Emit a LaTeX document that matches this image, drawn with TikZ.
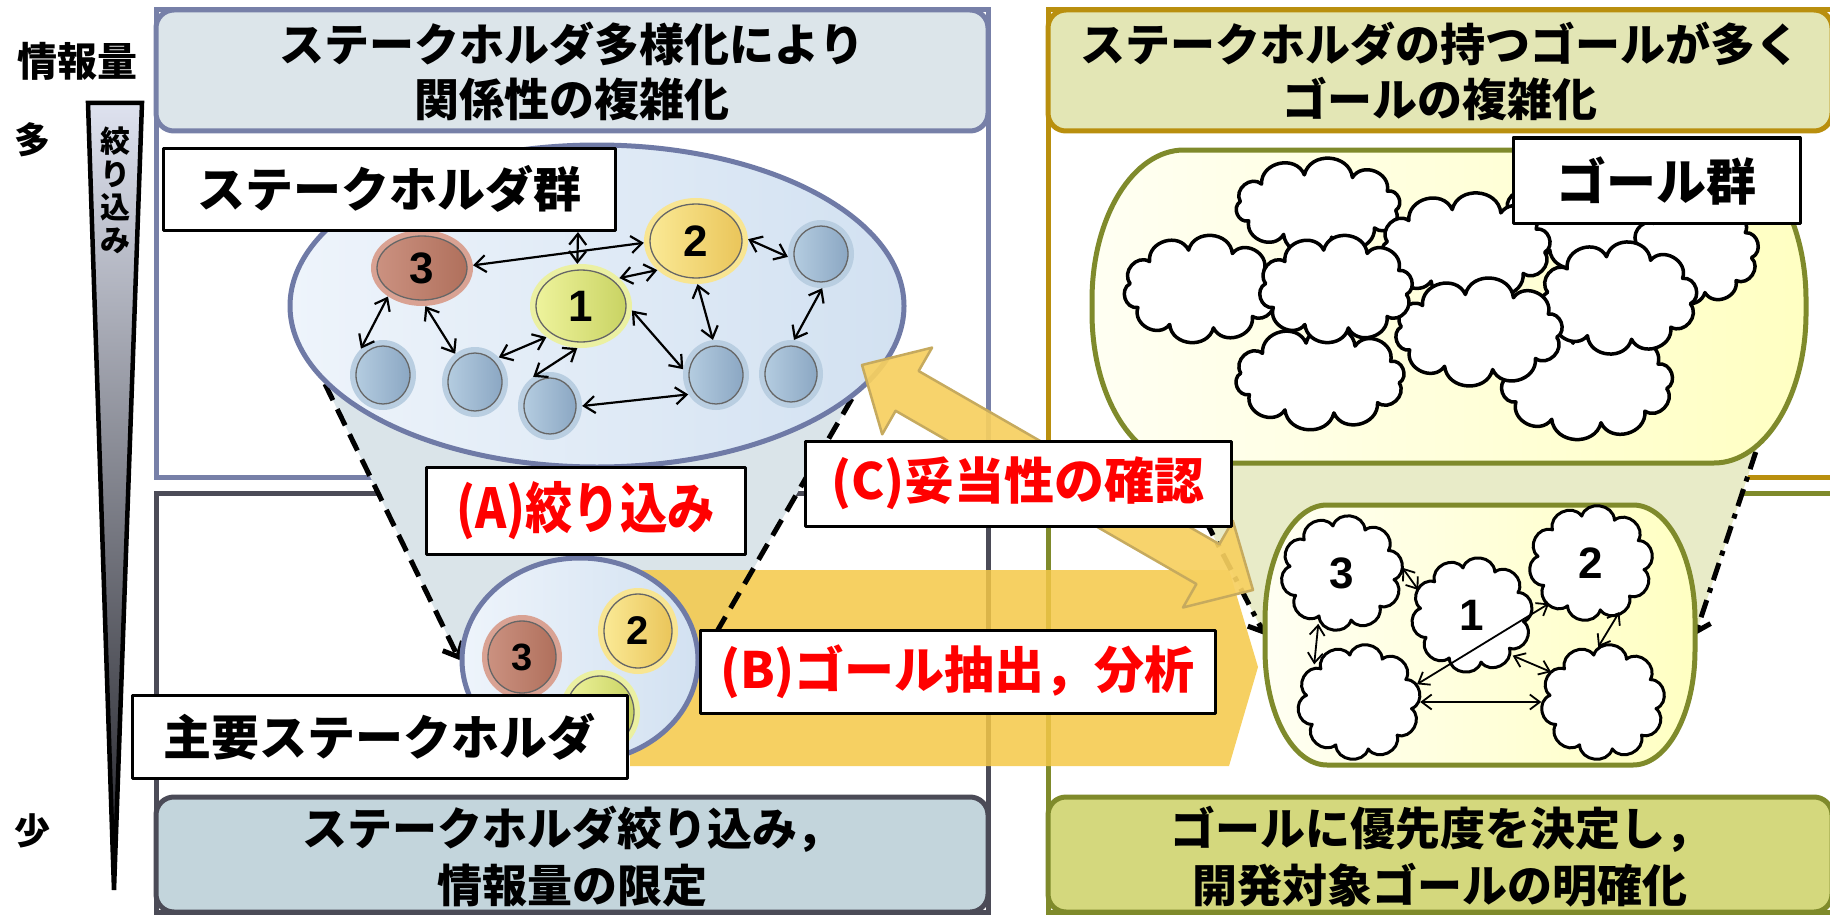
\documentclass[tikz,border=0pt]{standalone}
\usepackage{fontspec}
\newfontfamily\jpfont{Noto Sans CJK JP}
\newfontfamily\jpnarrow{Noto Sans CJK JP}[FakeStretch=0.86]
\newfontfamily\numfont{Liberation Sans}
\usetikzlibrary{arrows.meta,shapes.geometric,calc}

\pgfdeclarelayer{frames}
\pgfdeclarelayer{fills}
\pgfdeclarelayer{band}
\pgfdeclarelayer{lines}
\pgfsetlayers{frames,fills,band,lines,main}

\newcommand\setfs[2]{\fontsize{#1}{#2}\selectfont}

% panel colours
\definecolor{slateline}{HTML}{7780A8}
\definecolor{slatefill}{HTML}{DCE5EA}
\definecolor{darkline}{HTML}{4B4B57}
\definecolor{darkfill}{HTML}{C3D5DC}
\definecolor{goldline}{HTML}{B98F0E}
\definecolor{goldfill}{HTML}{E3E6B5}
\definecolor{oliveline}{HTML}{7F8A2B}
\definecolor{olivefill}{HTML}{D4D87D}
\definecolor{funnelblue}{HTML}{DAE4E9}
\definecolor{funnelolive}{HTML}{E8EBC8}
\definecolor{groupline}{HTML}{6F7AA6}
\definecolor{groupA}{HTML}{EEF4FB}
\definecolor{groupB}{HTML}{D2E1F1}
\definecolor{goalA}{HTML}{FFFFF3}
\definecolor{goalB}{HTML}{FFFFC2}
\definecolor{bandyellow}{HTML}{F5C847}
\definecolor{checkyellow}{HTML}{F7D060}
\definecolor{checkline}{HTML}{C6AA5E}
\definecolor{wedgetop}{HTML}{DEE2EF}
\definecolor{wedgemid}{HTML}{C5C9D6}
\definecolor{wedgebot}{HTML}{1E1E24}
% stakeholder discs
\definecolor{brownrim}{HTML}{D9A293}
\definecolor{browna}{HTML}{CB9180}
\definecolor{brownb}{HTML}{B0705C}
\definecolor{yelrim}{HTML}{F8E592}
\definecolor{yela}{HTML}{FAE995}
\definecolor{yelb}{HTML}{EAC55A}
\definecolor{grnrim}{HTML}{EBF0A2}
\definecolor{grna}{HTML}{EEF39C}
\definecolor{grnb}{HTML}{C9D363}
\definecolor{blurim}{HTML}{B9CEE1}
\definecolor{blua}{HTML}{B4CCE0}
\definecolor{blub}{HTML}{8BA7C3}

% disc: name, centre, width, height, palette, number, font size
\newcommand\StkDisc[7]{%
  \node[ellipse, inner sep=0pt, minimum width=#3pt, minimum height=#4pt,
        fill=#5rim] (#1) at #2 {};
  \path[left color=#5a, right color=#5b, draw=black!60, line width=1.3pt]
    (#1.center) ellipse [x radius=#3/2-6, y radius=#4/2-6];
  \node[font=\numfont\bfseries\setfs{#7}{#7}] at (#1.center) {#6};
}

% goal cloud: name, cx, cy, width, height, number, line width
\newcommand\PuffCloud[7]{%
  \node[ellipse, inner sep=0pt, minimum width=#4pt, minimum height=#5pt] (#1) at (#2,#3) {};
  \draw[fill=white, line width=#7pt]
    ({#2+(#4/2-8)*cos(8)}, {#3+(#5/2-0.06*#4)*sin(8)})
    \foreach \t in {44,80,...,368} {
      to[bend left=80, looseness=1.3] ({#2+(#4/2-8)*cos(\t)}, {#3+(#5/2-0.06*#4)*sin(\t)}) } -- cycle;
  \node[font=\numfont\bfseries\setfs{44}{44}] at (#1.center) {#6};
}

% box with elliptic corners: x0, y0, x1, y1, rx, ry
\newcommand\SoftBox[6]{(#1+#5,#2) -- (#3-#5,#2)
  arc[start angle=-90,end angle=0,x radius=#5,y radius=#6] -- (#3,#4-#6)
  arc[start angle=0,end angle=90,x radius=#5,y radius=#6] -- (#1+#5,#4)
  arc[start angle=90,end angle=180,x radius=#5,y radius=#6] -- (#1,#2+#6)
  arc[start angle=180,end angle=270,x radius=#5,y radius=#6] -- cycle}

\begin{document}
\begin{tikzpicture}[x=1pt, y=-1pt, line join=round,
  hdrtext/.style={align=center, font=\jpfont\bfseries\setfs{45}{55}},
  hdrtextlow/.style={align=center, font=\jpfont\bfseries\setfs{45}{57}},
  sidetext/.style={font=\jpfont\bfseries\setfs{36}{40}},
  tagbox/.style={draw=black, line width=3pt, fill=white, inner sep=0pt},
  tagtext/.style={font=\jpfont\bfseries\setfs{48}{52}},
  redtext/.style={text=red, font=\jpfont\bfseries\setfs{50}{54}},
  linkarrow/.style={line width=2.2pt,
    arrows={Straight Barb[length=11pt,width=17pt]-Straight Barb[length=11pt,width=17pt]}},
  goalarrow/.style={line width=1.8pt,
    arrows={Straight Barb[length=10pt,width=15pt]-Straight Barb[length=10pt,width=15pt]}},
  funnelline/.style={line width=5pt, dash pattern=on 18pt off 10pt},
  funneldash/.style={line width=5pt, dash pattern=on 18pt off 8pt on 5pt off 8pt},
  funneltip/.style={arrows={-Straight Barb[length=12pt,width=22pt]}},
]
\useasboundingbox (0,0) rectangle (1830,915);

% ---------- panels ----------
\begin{pgfonlayer}{frames}
  \fill[white] (0,0) rectangle (1830,915);
  \draw[slateline, line width=5pt] (156,10) rectangle (988,477);
  \draw[slateline, line width=5pt, fill=slatefill, rounded corners=18pt] (156,10) rectangle (988,131);
  \draw[darkline, line width=5pt] (156,493) rectangle (988,912);
  \draw[darkline, line width=5pt, fill=darkfill, rounded corners=18pt] (156,797) rectangle (988,912);
  \draw[goldline, line width=5pt] (1048,10) rectangle (1845,477);
  \draw[goldline, line width=5pt, fill=goldfill, rounded corners=18pt] (1048,10) rectangle (1832,131);
  \draw[oliveline, line width=5pt] (1048,493) rectangle (1845,912);
  \draw[oliveline, line width=5pt, fill=olivefill, rounded corners=18pt] (1048,797) rectangle (1832,912);
\end{pgfonlayer}

\node[hdrtext] (hdrLT) at (572,71.5) {ステークホルダ多様化により\\関係性の複雑化};
\node[hdrtext] (hdrRT) at (1440,71.5) {ステークホルダの持つゴールが多く\\ゴールの複雑化};
\node[hdrtextlow] (hdrLB) at (572,856.5) {ステークホルダ絞り込み，\\情報量の限定};
\node[hdrtextlow] (hdrRB) at (1440,856.5) {ゴールに優先度を決定し，\\開発対象ゴールの明確化};

% ---------- information scale ----------
\shade[top color=wedgetop, middle color=wedgemid, bottom color=wedgebot]
  (88,103) -- (142,103) -- (114,890) -- cycle;
\draw[line width=4.5pt, line join=miter] (88,103) -- (142,103) -- (114,890) -- cycle;
\node[font=\jpfont\bfseries\setfs{30}{33}, align=center] (wedgeLbl) at (115,190) {絞\\り\\込\\み};
\node[font=\jpfont\bfseries\setfs{40}{42}] (infoLbl) at (77,61) {情報量};
\node[sidetext] (manyLbl) at (32,140) {多};
\node[sidetext] (fewLbl) at (32,831) {少};

% ---------- stakeholder group ----------
\node[ellipse, inner sep=0pt, minimum width=614pt, minimum height=322pt,
      draw=groupline, line width=5pt, left color=groupA, right color=groupB] (sgroup) at (597,306) {};
\StkDisc{c3}{(422,268)}{102}{76}{brown}{3}{44}
\StkDisc{c2}{(696,241)}{104}{86}{yel}{2}{44}
\StkDisc{c1}{(581,306)}{102}{84}{grn}{1}{44}
\StkDisc{b1}{(383,375)}{66}{70}{blu}{}{10}
\StkDisc{b2}{(475,382)}{66}{70}{blu}{}{10}
\StkDisc{b3}{(550,406)}{64}{68}{blu}{}{10}
\StkDisc{b4}{(716,375)}{66}{70}{blu}{}{10}
\StkDisc{b5}{(791,374)}{64}{68}{blu}{}{10}
\StkDisc{b6}{(821,254)}{66}{68}{blu}{}{10}
\coordinate (c1up) at (578,232);

\draw[linkarrow] (c3.3) -- (c2.182);
\draw[linkarrow] (c1.95) -- (c1up);
\draw[linkarrow] (c1.36) -- (c2.217);
\draw[linkarrow] (c2.2) -- (b6.185);
\draw[linkarrow] (c2.272) -- (b4.95);
\draw[linkarrow] (b6.272) -- (b5.85);
\draw[linkarrow] (c1.355) -- (b4.170);
\draw[linkarrow] (b3.0) -- (b4.215);
\draw[linkarrow] (c3.220) -- (b1.130);
\draw[linkarrow] (c3.275) -- (b2.125);
\draw[linkarrow] (c1.222) -- (b2.46);
\draw[linkarrow] (c1.265) -- (b3.120);

% ---------- key stakeholders ----------
\node[ellipse, inner sep=0pt, minimum width=236pt, minimum height=204pt,
      draw=groupline, line width=5pt, left color=groupA, right color=groupB] (sfocus) at (580,660) {};
\StkDisc{d3}{(522,657)}{80}{84}{brown}{3}{38}
\StkDisc{d2}{(638,631)}{80}{86}{yel}{2}{40}
\StkDisc{d1}{(600,712)}{80}{84}{grn}{}{40}
\coordinate (focusR) at (712,640);

% ---------- goal group ----------
\node[minimum width=714pt, minimum height=313pt, inner sep=0pt] (ggroup) at (1449,306.5) {};
\path[left color=goalA, right color=goalB, draw=oliveline, line width=5pt]
  \SoftBox{1092}{150}{1806}{463}{92}{150};
\PuffCloud{gc1}{1318}{206}{173}{84}{}{3.5}
\PuffCloud{gc9}{1582}{218}{163}{91}{}{3.5}
\PuffCloud{gc10}{1695}{252}{130}{98}{}{3.5}
\PuffCloud{gc5}{1466}{247}{175}{97}{}{3.5}
\PuffCloud{gc8}{1587}{383}{177}{102}{}{3.5}
\PuffCloud{gc7}{1619}{298}{160}{103}{}{3.5}
\PuffCloud{gc6}{1479}{332}{173}{97}{}{3.5}
\PuffCloud{gc4}{1320}{378}{176}{92}{}{3.5}
\PuffCloud{gc2}{1201}{289}{159}{98}{}{3.5}
\PuffCloud{gc3}{1336}{289}{158}{98}{}{3.5}
\coordinate (ggL) at (1169,450);
\coordinate (ggR) at (1768,415);

% ---------- prioritised goals ----------
\node[minimum width=430pt, minimum height=260pt, inner sep=0pt] (gfocus) at (1480,635) {};
\path[left color=goalA, right color=goalB, draw=oliveline, line width=5pt]
  \SoftBox{1265}{505}{1695}{765}{62}{115};
\PuffCloud{k3}{1342}{573}{121}{110}{3}{3}
\PuffCloud{k1}{1472}{615}{120}{110}{1}{3}
\PuffCloud{k2}{1591}{563}{123}{110}{2}{3}
\PuffCloud{k4}{1359}{702}{122}{110}{}{3}
\PuffCloud{k5}{1603}{702}{123}{110}{}{3}
\draw[goalarrow] (k3.5) -- (k1.155);
\draw[goalarrow] (k3.245) -- (k4.140);
\draw[goalarrow] (k4.17) -- (k2.224);
\draw[goalarrow] (k2.300) -- (k5.95);
\draw[goalarrow] (k1.315) -- (k5.150);
\draw[goalarrow] (k4.east) -- (k5.west);

% ---------- funnels between the stages ----------
\begin{pgfonlayer}{fills}
  \fill[funnelblue] (sgroup.196) -- (sfocus.180) -- (sfocus.south) -- (focusR)
    -- (sgroup.340) -- (sgroup.center) -- cycle;
  \fill[funnelolive] (ggL) -- (gfocus.west) -- (gfocus.south) -- (gfocus.east)
    -- (ggR) -- (ggroup.center) -- cycle;
\end{pgfonlayer}
\begin{pgfonlayer}{band}
  \fill[bandyellow, opacity=0.85] (630,570) -- (1229,570) -- (1258,667) -- (1229,766) -- (630,766) -- cycle;
\end{pgfonlayer}
\begin{pgfonlayer}{lines}
  \draw[funnelline, funneltip] (sgroup.196) -- (sfocus.180);
  \draw[funnelline] (sgroup.340) -- (focusR);
  \draw[funneldash, funneltip] (ggL) -- (gfocus.west);
  \draw[funneldash, funneltip] (ggR) -- (gfocus.east);
\end{pgfonlayer}

% ---------- validation arrow ----------
\filldraw[fill=checkyellow, fill opacity=0.92, draw=checkline, line width=2.5pt]
  (862,365) -- (932.1,347.6) -- (918.6,371.0) -- (1219.4,544.2) -- (1232.8,520.8)
  -- (1253,590) -- (1183.0,607.5) -- (1196.4,584.0) -- (895.6,410.8) -- (882.2,434.3) -- cycle;

% ---------- labels ----------
\node[tagbox, tagtext, minimum width=452pt, minimum height=82pt] (tagSG) at (389,189) {ステークホルダ群};
\node[tagbox, tagtext, minimum width=495pt, minimum height=83pt] (tagKS) at (379.5,736.5) {主要ステークホルダ};
\node[tagbox, tagtext, font=\jpfont\bfseries\setfs{50}{54}, minimum width=287pt, minimum height=85pt] (tagGG) at (1656.5,180.5) {ゴール群};
\node[tagbox, redtext, font=\jpnarrow\bfseries\setfs{55}{58}, minimum width=319pt, minimum height=87pt] (tagA) at (585.5,510.5) {(A)絞り込み};
\node[tagbox, redtext, minimum width=515pt, minimum height=83pt] (tagB) at (957.5,671.5) {(B)ゴール抽出，分析};
\node[tagbox, redtext, minimum width=426pt, minimum height=85pt] (tagC) at (1018,483.5) {(C)妥当性の確認};
\end{tikzpicture}
\end{document}
